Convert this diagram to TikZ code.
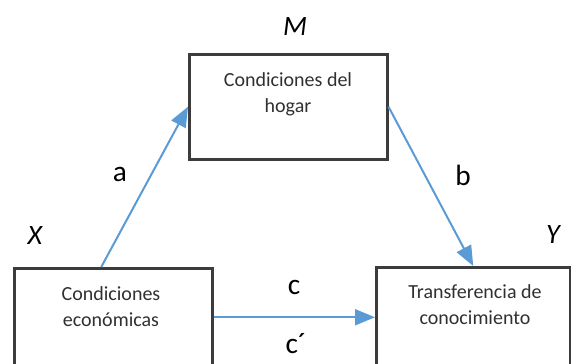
\documentclass[tikz,border=0pt]{standalone}
\usepackage{fontspec}
\setmainfont{Carlito}
\usetikzlibrary{calc,arrows.meta}
\definecolor{arrowblue}{HTML}{5B9BD5}
\definecolor{boxline}{HTML}{3C3C3C}
\definecolor{boxtxt}{HTML}{303030}
\tikzset{
  box/.style={draw=boxline, line width=1.9pt, rectangle, inner sep=0pt},
  boxtext/.style={align=center, text=boxtxt, font=\fontsize{15}{19.5}\selectfont, inner sep=0pt},
  varlabel/.style={font=\fontsize{21}{24}\selectfont\itshape, inner sep=0pt},
  pathlabel/.style={font=\fontsize{22}{24}\selectfont, inner sep=0pt},
  link/.style={draw=arrowblue, line width=1.5pt, -{Triangle[length=15pt,width=12pt]}}
}
\begin{document}
\begin{tikzpicture}[x=0.75pt,y=-0.75pt]
\useasboundingbox (0,0) rectangle (571,364);
\clip (0,0) rectangle (571,364);
% boxes
\node[box, minimum width=148.5pt, minimum height=78.75pt, anchor=north west] (M) at (188,53) {};
\node[box, minimum width=148.5pt, minimum height=73.5pt, anchor=north west] (X) at (13,267) {};
\node[box, minimum width=145.5pt, minimum height=75pt, anchor=north west] (Y) at (375,266) {};
% box texts
\node[boxtext] (Mt) at (288,94) {Condiciones del\\hogar};
\node[boxtext] (Xt) at (111,307) {Condiciones\\económicas};
\node[boxtext] (Yt) at (475,305) {Transferencia de\\conocimiento};
% variable labels
\node[varlabel] (Ml) at (295,27) {M};
\node[varlabel] (Xl) at (35,236) {X};
\node[varlabel] (Yl) at (553,235) {Y};
% connectors
\draw[link] ($(X.north west)!0.44!(X.north east)$) -- (M.west);
\draw[link] (M.east) -- (Y.north);
\draw[link] (X.east) -- (Y.west);
% path labels
\node[pathlabel] (la) at (120,174) {a};
\node[pathlabel] (lb) at (463,175) {b};
\node[pathlabel] (lc) at (294,287) {c};
\node[pathlabel] (lcp) at (296,344) {c´};
\end{tikzpicture}
\end{document}
